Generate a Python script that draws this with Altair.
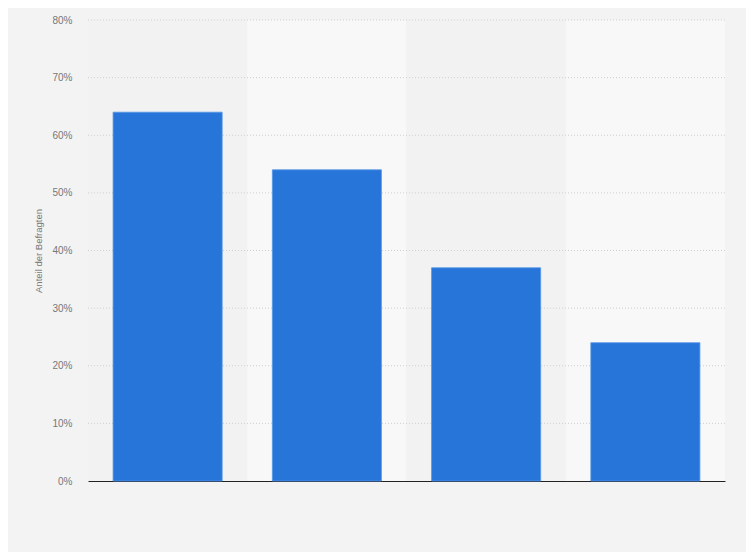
import altair as alt
import pandas as pd

categories = ["Kategorie 1", "Kategorie 2", "Kategorie 3", "Kategorie 4"]
values = [64, 54, 37, 24]
band_shades = ["#f2f2f2", "#f8f8f8", "#f2f2f2", "#f8f8f8"]
y_ticks = [0, 10, 20, 30, 40, 50, 60, 70, 80]

df = pd.DataFrame({"cat": categories, "val": values, "shade": band_shades})
grid_df = pd.DataFrame({"t": y_ticks[1:]})

yscale = alt.Scale(domain=[0, 80], nice=False)
yaxis = alt.Axis(values=y_ticks, labelExpr="datum.value + '%'", grid=False,
                 ticks=False, domain=False, title="Anteil der Befragten",
                 labelColor="#777", labelFont="Liberation Sans", labelFontSize=10,
                 labelPadding=16, titleColor="#777", titleFont="Liberation Sans",
                 titleFontSize=9.5, titleFontWeight="normal", titlePadding=8)

bands = alt.Chart(df).mark_rect().encode(
    x=alt.X("cat:N", sort=categories, axis=None,
            scale=alt.Scale(paddingInner=0, paddingOuter=0)),
    color=alt.Color("shade:N", scale=None),
)

grid = alt.Chart(grid_df).mark_rule(color="#cfcfcf", strokeDash=[1, 2], strokeWidth=1).encode(
    y=alt.Y("t:Q", scale=yscale, axis=yaxis),
)

bars = alt.Chart(df).mark_bar(color="#2775d9", stroke="#5596e6", strokeWidth=0.8).encode(
    x=alt.X("cat:N", sort=categories,
            scale=alt.Scale(paddingInner=0.315, paddingOuter=0.1575),
            axis=alt.Axis(labels=False, ticks=False, title=None, domainColor="#222",
                          domainWidth=1.2, grid=False)),
    y=alt.Y("val:Q", scale=yscale, axis=yaxis),
)

chart = alt.layer(bands, grid, bars).resolve_scale(x="independent").properties(
    width=637, height=461,
    padding={"left": 80, "top": 12, "right": 21, "bottom": 71},
    autosize=alt.AutoSizeParams(type="none"),
    background="#f3f3f3",
).configure_view(stroke=None)

chart.save("out.html", embed_options={"renderer": "svg", "actions": False})
